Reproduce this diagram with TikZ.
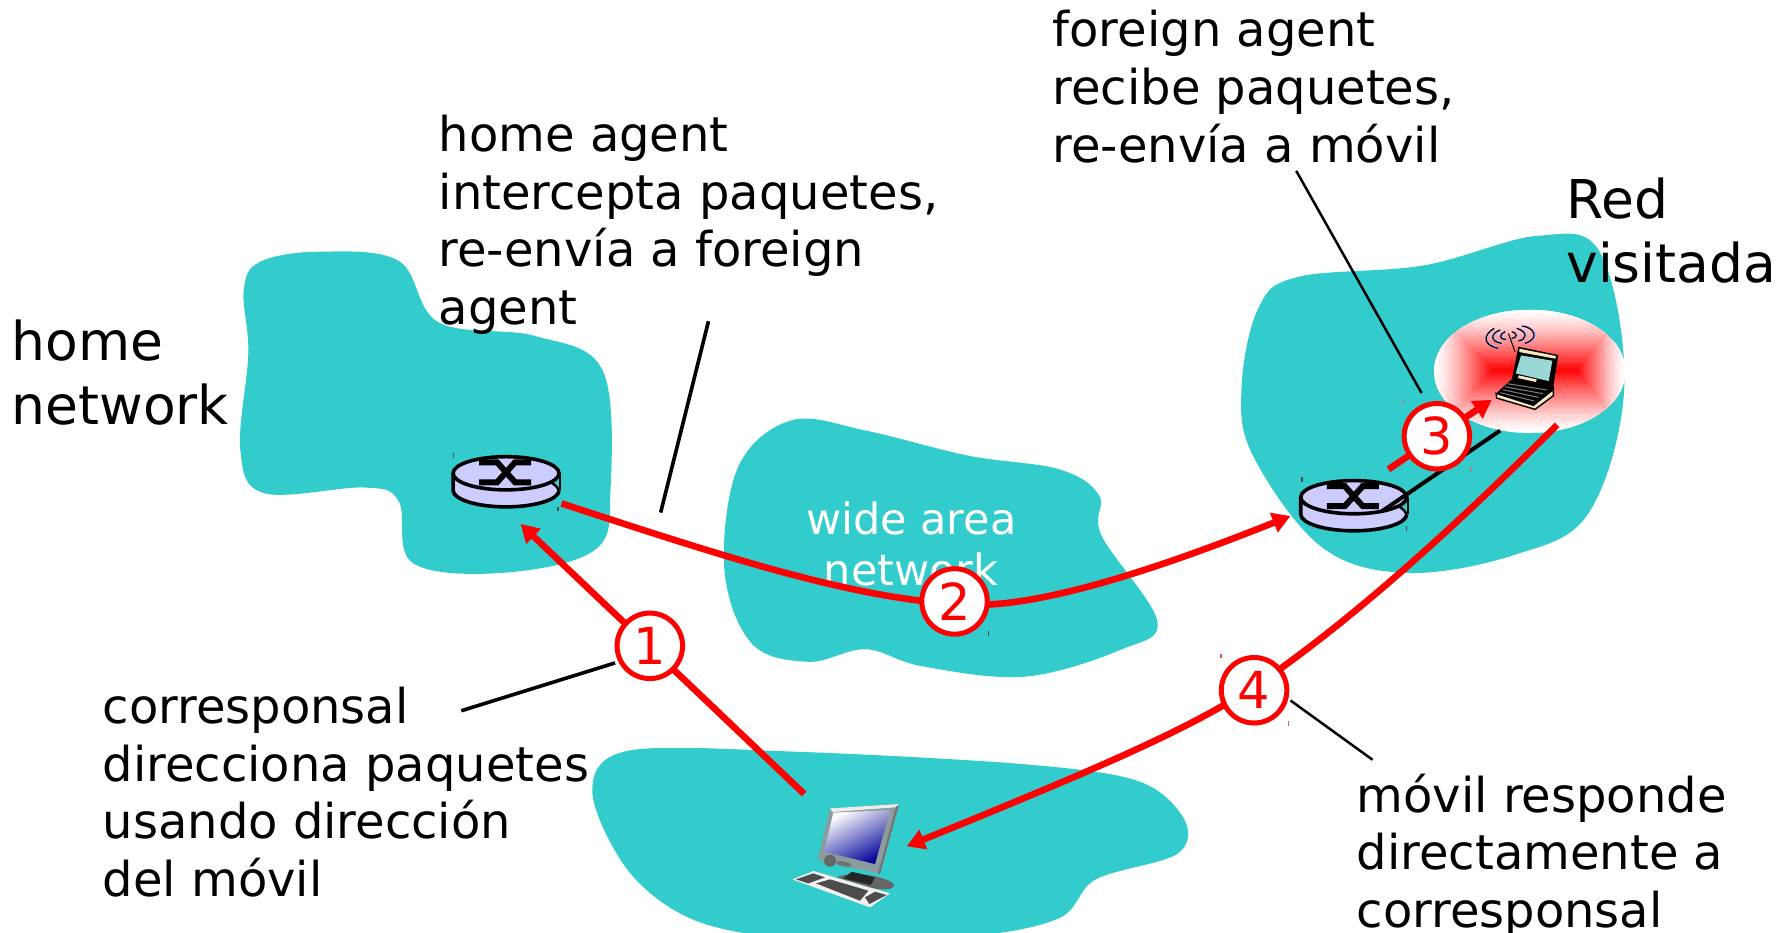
\documentclass[tikz,border=0pt]{standalone}
\usepackage{fontspec}
\setmainfont{DejaVu Sans}
\usetikzlibrary{arrows.meta,shapes.geometric}
\definecolor{blob}{HTML}{33CCCC}
\definecolor{rtr}{HTML}{CCCCFF}
\definecolor{cream}{HTML}{F5E9C0}
\definecolor{lapscr}{HTML}{9AD8D8}
\definecolor{bezel}{HTML}{8C9C9C}
\tikzset{
 blobfill/.style={fill=blob,draw=none},
 redline/.style={draw=red,line width=6.6pt},
 redarrow/.style={redline,-{Triangle[length=18pt,width=20pt]}},
 numcirc/.style={circle,draw=red,line width=5pt,fill=white,text=red,minimum size=65.5pt,inner sep=0pt,font=\fontsize{51}{51}\selectfont},
 calltext/.style={anchor=north west,inner sep=0pt,align=left,font=\fontsize{48}{57.6}\selectfont},
 bigtext/.style={anchor=north west,inner sep=0pt,align=left,font=\fontsize{53.5}{64}\selectfont},
 thick callout/.style={draw=black,line width=3.6pt},
 thin callout/.style={draw=black,line width=2.5pt},
 routerpic/.pic={
  \begin{scope}[x=1pt,y=-1pt,line width=3.6pt]
   \fill[rtr] (-53,0) -- (-53,17) arc[start angle=180,end angle=360,x radius=53pt,y radius=16.6pt] -- (53,0) -- cycle;
   \fill[blob] (43,8) -- (54,1) -- (54,17) -- cycle;
   \draw (-53,0) -- (-53,17) arc[start angle=180,end angle=360,x radius=53pt,y radius=16.6pt];
   \draw[line width=2.4pt] (54,1) -- (54,17);
   \draw[line width=2.4pt] (42,8) .. controls (46,9) and (50,12) .. (53,17);
   \draw[fill=rtr] (0,0) ellipse[x radius=53pt,y radius=16.6pt];
   \draw[line width=6pt] (-27,-11) -- (-9,-11) -- (9,9) -- (25,9);
   \draw[line width=6pt] (-27,9) -- (-9,9) -- (9,-11) -- (25,-11);
  \end{scope}}
}
\begin{document}
\begin{tikzpicture}[x=1.139pt,y=-1.139pt]
\useasboundingbox (0,0) rectangle (1568,819.1);
\begin{scope}
\clip (0,0) rectangle (1568,819.1);
% home network
\fill[blobfill] plot[smooth cycle,tension=0.6] coordinates {(228,230)(280,221)(350,229)(385,283)(470,295)(529,325)(536,430)(522,483)(440,503)(362,494)(350,440)(320,428)(232,433)(211,395)(218,310)(214,255)};
% wide area
\fill[blobfill] plot[smooth cycle,tension=0.6] coordinates {(695,369)(760,378)(850,400)(930,412)(965,435)(967,470)(1016,545)(985,570)(900,594)(810,585)(760,570)(710,581)(660,565)(636,500)(648,410)};
% bottom
\fill[blobfill] plot[smooth cycle,tension=0.55] coordinates {(552,659)(700,660)(900,671)(1000,686)(1040,720)(1033,750)(962,772)(930,806)(850,822)(700,824)(610,808)(552,765)(520,695)};
% visited
\fill[blobfill] plot[smooth cycle,tension=0.6] coordinates {(1140,243)(1250,233)(1350,207)(1405,222)(1426,340)(1395,450)(1330,487)(1235,503)(1160,480)(1100,400)(1090,340)(1105,270)};
\end{scope}

% gradient ellipse round the laptop
\begin{scope}
\clip (1343,326) ellipse[x radius=95.7pt,y radius=61.6pt];
\fill[white] (1255,270) rectangle (1430,385);
\foreach \i in {0,...,50}{
 \pgfmathsetmacro\tt{\i/50}
 \pgfmathsetmacro\pc{100*\tt^1.3}
 \pgfmathsetmacro\xa{1259+(1311-1259)*\tt}
 \pgfmathsetmacro\xb{1427.6+(1384.5-1427.6)*\tt}
 \pgfmathsetmacro\ya{272+(325-272)*\tt}
 \pgfmathsetmacro\yb{380+(325-380)*\tt}
 \fill[red!\pc!white] (\xa,\ya) rectangle (\xb,\yb);
}
\end{scope}

% routers
\node[inner sep=0pt,minimum width=106pt,minimum height=50pt] (r1) at (444.3,415.5) {};
\node[inner sep=0pt,minimum width=106pt,minimum height=50pt] (r2) at (1188.5,436.5) {};
\coordinate (lapfoot) at (1317,378);
\coordinate (r2port) at (1213,449);
\pic at (r1) {routerpic};
\pic at (r2) {routerpic};
\draw[black,line width=4pt] (r2port) -- (lapfoot);

% laptop
\node[inner sep=0pt,minimum width=70pt,minimum height=90pt] (laptop) at (1335,318) {};
\begin{scope}[shift={(1290.6,272.2)},x=0.3333pt,y=-0.3333pt]
 \draw[black,line width=1pt] (115,70) -- (135,125);
 \draw[blue!30,line width=2.2pt,xshift=0.8pt]
   (72,55) .. controls (38,75) and (38,105) .. (85,115)
   (90,60) .. controls (60,70) and (60,95) .. (95,100)
   (105,65) .. controls (85,75) and (88,88) .. (108,88)
   (155,48) .. controls (190,50) and (212,85) .. (165,100)
   (140,55) .. controls (175,65) and (170,90) .. (145,92)
   (125,65) .. controls (145,70) and (140,85) .. (125,85);
 \draw[black,line width=1.2pt]
   (72,55) .. controls (38,75) and (38,105) .. (85,115)
   (90,60) .. controls (60,70) and (60,95) .. (95,100)
   (105,65) .. controls (85,75) and (88,88) .. (108,88)
   (155,48) .. controls (190,50) and (212,85) .. (165,100)
   (140,55) .. controls (175,65) and (170,90) .. (145,92)
   (125,65) .. controls (145,70) and (140,85) .. (125,85);
 \fill[cream,draw=black,line width=1.4pt] (78,250) -- (190,285) -- (250,238) -- (250,257) -- (195,298) -- (80,264) -- cycle;
 \fill[black] (128,205) -- (252,228) -- (250,240) -- (190,288) -- (78,250) -- cycle;
 \fill[black] (145,110) -- (265,135) -- (250,228) -- (126,205) -- cycle;
 \fill[cream] (148,116) -- (258,138) -- (256,146) -- (148,126) -- cycle;
 \fill[lapscr] (153,136) -- (247,152) -- (236,213) -- (137,190) -- cycle;
 \fill[cream] (146,196) -- (200,208) -- (198,216) -- (144,204) -- cycle;
 \foreach \k in {0,1,2,3}{
  \draw[gray,line width=1pt] (112+\k*-7,221+\k*9) -- (232+\k*-13,240+\k*11);
 }
\end{scope}

% desktop
\node[inner sep=0pt,minimum width=110pt,minimum height=105pt] (pc) at (741,750) {};
\begin{scope}[shift={(684.8,693.6)},x=0.3333pt,y=-0.3333pt]
 \fill[gray!80!black] (170,262) .. controls (230,235) and (345,270) .. (342,285) .. controls (340,305) and (290,298) .. (260,290) -- cycle;
 \fill[black!85] (215,245) -- (285,262) -- (272,285) -- (190,265) -- cycle;
 \fill[bezel] (150,55) -- (357,42) -- (300,252) -- (113,210) -- cycle;
 \fill[black!55] (357,42) -- (300,252) -- (294,250) -- (348,50) -- cycle;
 \fill[gray!15] (150,55) -- (357,42) -- (345,52) -- (158,66) -- cycle;
 \shade[left color=white,middle color=blue!18!white!90!gray,right color=blue!60!black,shading angle=28] (160,68) -- (330,60) -- (285,222) -- (132,185) -- cycle;
 \fill[black!55,rounded corners=3pt] (170,210) -- (215,220) -- (212,233) -- (168,224) -- cycle;
 \fill[black!60] (150,212) circle[radius=6pt];
 \fill[white!88!gray] (37,268) -- (100,243) -- (330,310) -- (270,352) -- cycle;
 \fill[black!70] (48,268) -- (100,250) -- (135,262) -- (85,280) -- cycle;
 \fill[black!70] (108,280) -- (150,268) -- (265,302) -- (240,332) -- cycle;
 \fill[black!70] (255,322) -- (285,305) -- (320,315) -- (268,342) -- cycle;
\end{scope}

% tiny marks
\foreach \px/\py/\col in {1232/352/red,1291/412/red,1072/576/red,1131/635/red,868/556/black,398/400/black,490/447/black,1143/421/black,1235/464/black}{
 \fill[\col!70!white] (\px-0.6,\py-2) rectangle (\px+0.6,\py+2);
}

% wide area label (under red line)
\node[align=center,inner sep=0pt,text=white,font=\fontsize{43}{51}\selectfont,anchor=north] (wan) at (800,440) {wide area\\network};

% connector ends
\coordinate (a1s) at (706,697);
\coordinate (a1e) at (457,460);
\coordinate (a2s) at (493,442);
\coordinate (a2m) at (860,531);
\coordinate (a2e) at (1133,453);
\coordinate (a3s) at (1219,412);
\coordinate (a3e) at (1309.6,351);
\coordinate (a4s) at (1367,373);
\coordinate (a4m) at (1120,590);
\coordinate (a4e) at (796,743);

\draw[redarrow] (a1s) -- (a1e);
\draw[redarrow] (a2s) .. controls (640,490) and (760,530) .. (a2m) .. controls (930,530) and (1040,490) .. (a2e);
\draw[redarrow] (a3s) -- (a3e);
\draw[redarrow] (a4s) .. controls (1270,470) and (1190,540) .. (a4m) .. controls (1060,632) and (1000,660) .. (a4e);

% number circles above the lines
\node[numcirc] (n1) at (570.5,567) {1};
\node[numcirc] (n2) at (838,528) {2};
\node[numcirc] (n3) at (1261.5,383) {3};
\node[numcirc] (n4) at (1101,606) {4};

% texts
\node[calltext] (t1) at (385,101) {home agent\\intercepta paquetes,\\re-envía a foreign\\agent};
\node[calltext] (t2) at (924,9) {foreign agent\\recibe paquetes,\\re-envía a móvil};
\node[calltext] (t3) at (90,603) {corresponsal\\direcciona paquetes\\usando dirección\\del móvil};
\node[calltext] (t4) at (1191,679) {móvil responde\\directamente a\\corresponsal};
\node[bigtext] (t5) at (1375,156) {Red\\visitada};
\node[bigtext] (t6) at (10,281) {home\\network};

% callout lines
\coordinate (c1a) at (622,282); \coordinate (c1b) at (580,450);
\coordinate (c3a) at (405,624); \coordinate (c3b) at (540,582);
\coordinate (c2a) at (1138,150); \coordinate (c2b) at (1248,345);
\coordinate (c4a) at (1133,615); \coordinate (c4b) at (1205,667);
\draw[thick callout] (c1a) -- (c1b);
\draw[thick callout] (c3a) -- (c3b);
\draw[thin callout] (c2a) -- (c2b);
\draw[thin callout] (c4a) -- (c4b);
\end{tikzpicture}
\end{document}
